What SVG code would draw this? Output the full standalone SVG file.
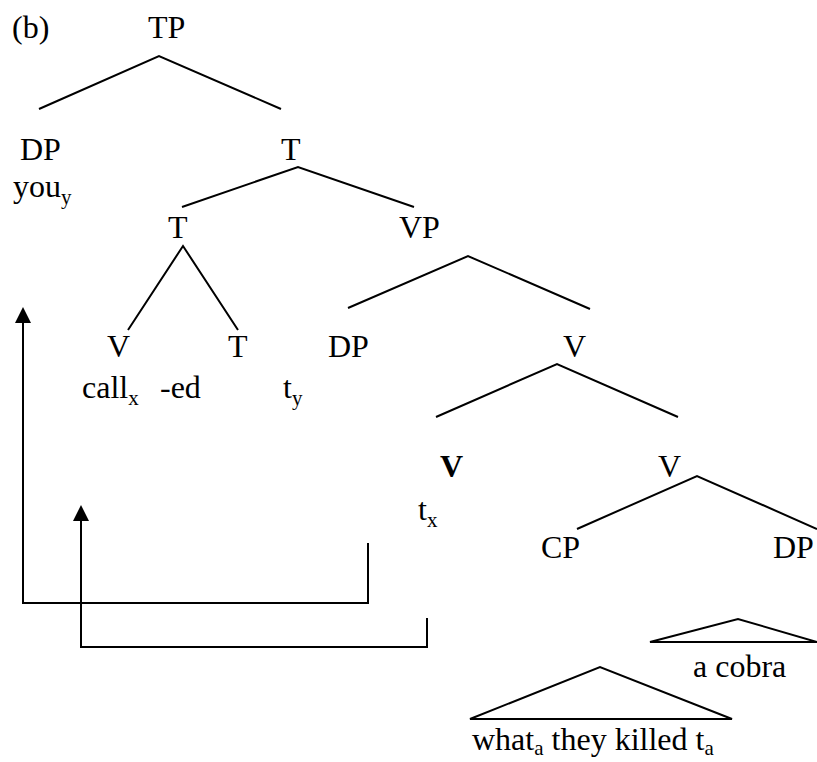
<svg xmlns="http://www.w3.org/2000/svg" width="817" height="762" viewBox="0 0 817 762">
<style>
text{font-family:'Liberation Serif','Tinos','Times New Roman','DejaVu Serif',serif;font-size:32px;fill:#000}
.sub{font-size:21px}
.b{font-weight:bold}
.ln{fill:none;stroke:#000;stroke-width:2}
</style>
<defs>
<marker id="ah" markerWidth="16" markerHeight="16" refX="0" refY="8" orient="auto" markerUnits="userSpaceOnUse" viewBox="0 0 16 16">
<path d="M0,0 L16,8 L0,16 Z" fill="#000"/>
</marker>
</defs>
<rect width="817" height="762" fill="#fff"/>
<text x="12" y="38">(b)</text>
<g id="TP"><text x="148" y="38">TP</text></g>
<g id="DP1"><text x="20" y="160">DP</text><text x="13" y="197">you<tspan class="sub" dy="7">y</tspan></text></g>
<g id="Tbar"><text x="281" y="160">T</text></g>
<g id="T2"><text x="168" y="238">T</text></g>
<g id="VP"><text x="399" y="238">VP</text></g>
<g id="V1"><text x="107" y="357">V</text><text x="82" y="398">call<tspan class="sub" dy="7">x</tspan></text></g>
<g id="T3"><text x="228" y="357">T</text><text x="160" y="398">-ed</text></g>
<g id="DP2"><text x="328" y="357">DP</text><text x="283" y="398">t<tspan class="sub" dy="7">y</tspan></text></g>
<g id="Vbar"><text x="563" y="357">V</text></g>
<g id="Vhead"><text class="b" x="440" y="477">V</text><text x="418" y="520">t<tspan class="sub" dy="7">x</tspan></text></g>
<g id="Vbar2"><text x="658" y="477">V</text></g>
<g id="CP"><text x="541" y="558">CP</text>
<polygon class="ln" points="470,719 600,667 732,719"/>
<text x="472" y="750">what<tspan class="sub" dy="5">a</tspan><tspan dy="-5"> they killed t</tspan><tspan class="sub" dy="5">a</tspan></text></g>
<g id="DP3"><text x="773" y="558">DP</text>
<polygon class="ln" points="650,642 738,619 817,642"/>
<text x="693" y="677">a cobra</text></g>
<g id="connectors">
<polyline class="ln" points="39,109 159,56 281,109"/>
<polyline class="ln" points="182,207 298,167 414,207"/>
<polyline class="ln" points="128,330 183,246 238,330"/>
<polyline class="ln" points="348,308 468,256 590,309"/>
<polyline class="ln" points="436,417 557,364 678,417"/>
<polyline class="ln" points="577,529 697,476 817,529"/>
<path class="ln" d="M368,543 V603 H23 V323" stroke-width="2.5" marker-end="url(#ah)"/>
<path class="ln" d="M427,618 V647 H81 V521" stroke-width="2.5" marker-end="url(#ah)"/>
</g>
</svg>
